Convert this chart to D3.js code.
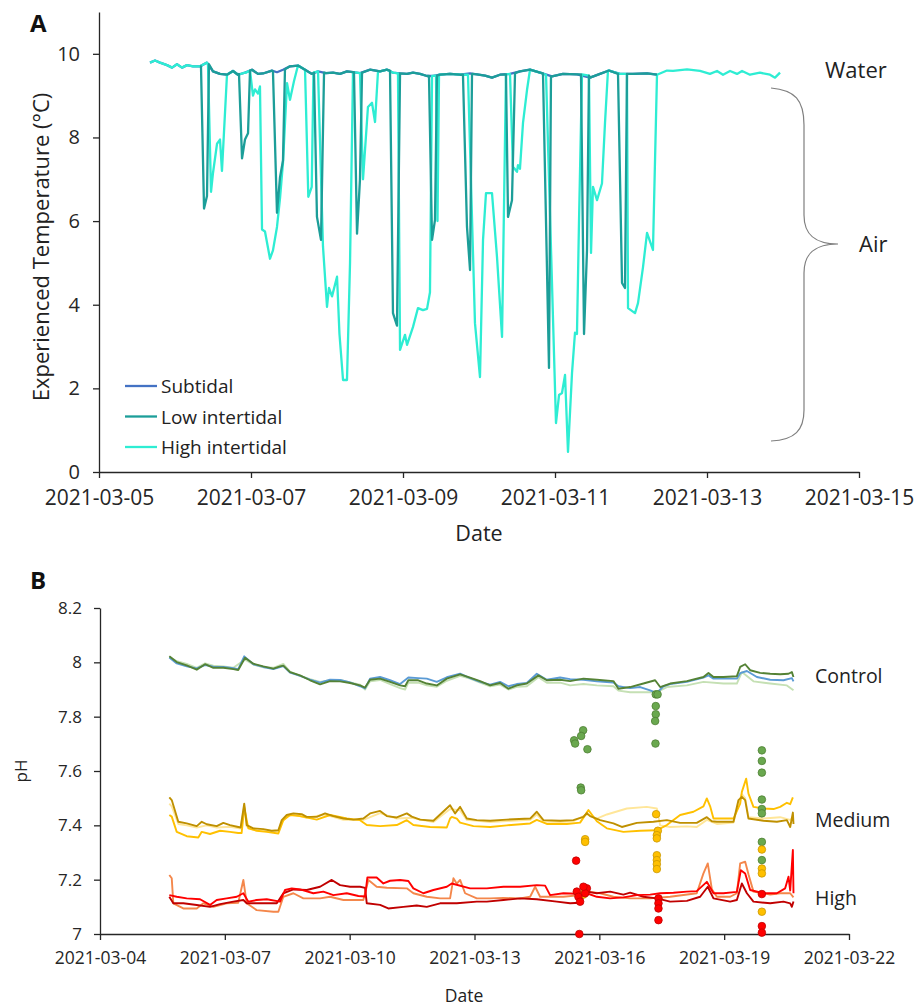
<!DOCTYPE html>
<html>
<head>
<meta charset="utf-8">
<script src="https://cdn.jsdelivr.net/npm/d3@7"></script>
<style>
body { margin: 0; background: #fff; }
svg { font-family: "Open Sans", sans-serif; }
.axis path, .axis line { stroke: #262626; stroke-width: 1.3; }
.axis text { fill: #262626; }
</style>
</head>
<body>
<div id="chart"></div>
<script>
// ---------- Panel A data: time = day of March 2021 (decimal), value = °C ----------
const waterTemp = [
  [5.671,9.79],[5.737,9.84],[5.803,9.79],[5.895,9.73],[5.961,9.67],[6.026,9.75],[6.092,9.67],[6.158,9.73],
  [6.237,9.70],[6.329,9.70],[6.421,9.79],[6.500,9.58],[6.592,9.52],[6.684,9.50],[6.763,9.59],[6.829,9.50],
  [6.921,9.55],[7.013,9.62],[7.092,9.52],[7.158,9.53],[7.276,9.60],[7.342,9.56],[7.421,9.62],[7.513,9.70],
  [7.618,9.72],[7.711,9.62],[7.803,9.52],[7.882,9.58],[7.987,9.54],[8.079,9.55],[8.171,9.52],[8.263,9.58],
  [8.342,9.56],[8.434,9.54],[8.566,9.62],[8.697,9.58],[8.789,9.62],[8.868,9.55],[8.961,9.53],[9.053,9.52],
  [9.132,9.55],[9.224,9.52],[9.316,9.47],[9.395,9.47],[9.487,9.50],[9.618,9.52],[9.750,9.50],[9.882,9.53],
  [9.974,9.51],[10.079,9.48],[10.171,9.43],[10.276,9.50],[10.408,9.52],[10.539,9.58],[10.671,9.62],[10.803,9.55],
  [10.961,9.46],[11.105,9.52],[11.289,9.51],[11.461,9.43],[11.592,9.52],[11.711,9.60],[11.855,9.52],[12.026,9.52],
  [12.211,9.53],[12.342,9.50],[12.474,9.60],[12.553,9.59],[12.737,9.63],[12.908,9.59],[13.039,9.52],[13.132,9.59],
  [13.211,9.50],[13.303,9.59],[13.395,9.52],[13.461,9.59],[13.566,9.50],[13.697,9.55],[13.829,9.50],[13.895,9.43],
  [13.961,9.55]
];

// air exposure episodes, low intertidal
const lowDips = [
  [[6.342,9.70],[6.382,6.30],[6.421,6.60],[6.447,9.75]],
  [[6.842,9.52],[6.882,7.50],[6.921,7.95],[6.961,8.10],[6.987,9.60]],
  [[7.289,9.58],[7.342,6.20],[7.382,7.05],[7.421,7.45],[7.447,9.63]],
  [[7.829,9.55],[7.868,6.10],[7.921,5.55],[7.961,9.55]],
  [[8.355,9.56],[8.395,5.70],[8.434,7.00],[8.461,9.55]],
  [[8.829,9.60],[8.868,3.80],[8.921,3.50],[8.961,9.53]],
  [[9.342,9.47],[9.382,5.55],[9.421,6.03],[9.447,9.48]],
  [[9.789,9.50],[9.842,5.86],[9.882,4.83],[9.908,9.52]],
  [[10.355,9.51],[10.382,6.10],[10.434,6.50],[10.474,9.54]],
  [[10.842,9.53],[10.921,2.49],[10.947,9.46]],
  [[11.342,9.51],[11.382,3.30],[11.421,5.30],[11.447,9.48]],
  [[11.829,9.52],[11.882,4.52],[11.921,4.40],[11.947,9.52]]
];

// air exposure episodes, high intertidal
const highDips = [
  [[6.434,9.75],[6.474,6.70],[6.500,7.15],[6.553,7.85],[6.592,7.95],[6.618,7.20],[6.684,9.50]],
  [[6.934,9.55],[6.987,9.60],[7.026,9.00],[7.053,9.15],[7.092,9.05],[7.118,9.22],[7.145,5.80],[7.184,5.75],
   [7.250,5.10],[7.289,5.30],[7.342,5.86],[7.382,6.55],[7.421,7.40],[7.474,9.30],[7.513,8.90],[7.566,9.35],[7.618,9.72]],
  [[7.711,9.62],[7.754,6.58],[7.799,6.82],[7.822,9.55]],
  [[7.882,9.58],[7.947,5.40],[8.000,3.95],[8.026,4.40],[8.066,4.20],[8.132,4.67],[8.164,3.30],[8.211,2.20],
   [8.263,2.20],[8.303,5.00],[8.342,9.56]],
  [[8.434,9.54],[8.474,7.00],[8.539,8.73],[8.592,8.83],[8.632,8.37],[8.671,9.58]],
  [[8.934,9.53],[8.961,2.92],[9.026,3.28],[9.053,3.04],[9.132,3.47],[9.197,3.92],[9.263,3.87],[9.316,3.90],
   [9.355,4.30],[9.382,9.47]],
  [[9.434,9.48],[9.454,6.00],[9.474,9.50]],
  [[9.855,9.50],[9.947,3.56],[10.013,2.27],[10.053,5.55],[10.092,6.67],[10.171,6.67],[10.237,5.14],[10.303,3.23],[10.355,9.51]],
  [[10.408,9.52],[10.447,7.30],[10.500,7.18],[10.513,7.34],[10.539,7.25],[10.579,8.35],[10.632,9.14],[10.671,9.62]],
  [[10.882,9.50],[11.013,1.17],[11.053,1.84],[11.092,1.89],[11.132,2.32],[11.171,0.48],[11.224,2.37],[11.263,3.33],
   [11.289,3.30],[11.316,6.00],[11.355,9.51]],
  [[11.447,9.48],[11.474,5.24],[11.500,6.82],[11.553,6.50],[11.618,6.90],[11.658,8.35],[11.697,9.60]],
  [[11.947,9.52],[11.961,3.92],[12.053,3.80],[12.092,4.04],[12.158,4.90],[12.211,5.72],[12.289,5.31],[12.342,9.50]]
];

const lowStart = 6.329;
const lowEnd = 12.342;
const seriesA = ["Subtidal", "Low intertidal", "High intertidal"];
const ticksA = ["2021-03-05", "2021-03-07", "2021-03-09", "2021-03-11", "2021-03-13", "2021-03-15"];
const yTicksA = [0, 2, 4, 6, 8, 10];

// ---------- Panel B data: time = day of March 2021 (decimal), value = pH ----------
const ctrlBlue = [
  [5.666,8.018],[5.844,7.996],[6.084,7.985],[6.325,7.978],[6.524,7.990],[6.724,7.984],[6.964,7.983],[7.204,7.978],
  [7.322,7.975],[7.466,8.022],[7.685,7.993],[7.925,7.983],[8.166,7.975],[8.406,7.986],[8.567,7.962],[8.808,7.950],
  [9.048,7.936],[9.288,7.925],[9.529,7.936],[9.769,7.935],[10.010,7.926],[10.25,7.912],[10.370,7.904],[10.490,7.940],
  [10.731,7.946],[10.971,7.934],[11.212,7.920],[11.411,7.944],[11.649,7.942],[11.853,7.940],[12.094,7.928],[12.334,7.945],
  [12.654,7.958],[12.894,7.942],[13.135,7.928],[13.375,7.918],[13.615,7.928],[13.815,7.912],[14.016,7.920],[14.257,7.924],
  [14.497,7.958],[14.738,7.936],[15.058,7.944],[15.298,7.938],[15.618,7.936],[15.940,7.930],[16.339,7.926],[16.459,7.912],
  [16.740,7.905],[16.981,7.909],[17.221,7.897],[17.382,7.887],[17.541,7.912],[17.702,7.920],[18.103,7.928],[18.502,7.944],
  [18.623,7.952],[18.743,7.940],[19.305,7.940],[19.385,7.960],[19.546,7.968],[19.786,7.946],[20.106,7.936],[20.425,7.934],
  [20.627,7.942],[20.666,7.930]
];
const ctrlDark = [
  [5.666,8.022],[5.844,8.001],[6.084,7.989],[6.325,7.973],[6.524,7.993],[6.724,7.980],[6.964,7.980],[7.204,7.975],
  [7.322,7.972],[7.486,8.017],[7.685,7.995],[7.925,7.985],[8.166,7.977],[8.327,7.985],[8.406,7.988],[8.567,7.964],
  [8.808,7.952],[9.048,7.934],[9.288,7.919],[9.529,7.931],[9.769,7.930],[10.010,7.924],[10.25,7.915],[10.370,7.907],
  [10.490,7.936],[10.731,7.940],[10.971,7.928],[11.212,7.915],[11.332,7.912],[11.411,7.934],[11.649,7.934],[11.853,7.922],
  [12.094,7.915],[12.334,7.940],[12.654,7.956],[12.894,7.944],[13.135,7.931],[13.375,7.915],[13.615,7.924],[13.815,7.903],
  [14.016,7.915],[14.257,7.922],[14.536,7.952],[14.738,7.934],[15.058,7.936],[15.298,7.931],[15.618,7.940],[15.940,7.936],
  [16.339,7.931],[16.459,7.903],[16.740,7.909],[17.060,7.922],[17.341,7.934],[17.462,7.909],[17.702,7.922],[18.103,7.931],
  [18.502,7.946],[18.623,7.961],[18.743,7.946],[18.983,7.946],[19.305,7.949],[19.385,7.983],[19.505,7.993],[19.625,7.971],
  [19.865,7.961],[20.106,7.958],[20.346,7.956],[20.546,7.958],[20.627,7.964],[20.666,7.946]
];
const ctrlLight = [
  [5.666,8.020],[5.844,8.004],[6.084,7.994],[6.325,7.980],[6.524,7.996],[6.724,7.988],[6.964,7.985],[7.204,7.980],
  [7.486,8.010],[7.685,7.992],[7.925,7.982],[8.166,7.980],[8.406,7.994],[8.567,7.966],[8.808,7.950],[9.048,7.938],
  [9.288,7.928],[9.529,7.934],[9.769,7.935],[10.010,7.926],[10.25,7.918],[10.370,7.900],[10.490,7.930],[10.731,7.935],
  [10.971,7.920],[11.212,7.905],[11.332,7.900],[11.411,7.925],[11.649,7.925],[11.853,7.915],[12.094,7.910],[12.334,7.932],
  [12.654,7.950],[12.894,7.940],[13.135,7.925],[13.375,7.912],[13.615,7.918],[13.815,7.900],[14.016,7.910],[14.257,7.912],
  [14.536,7.945],[14.738,7.925],[15.058,7.925],[15.298,7.915],[15.618,7.920],[15.940,7.915],[16.339,7.912],[16.459,7.896],
  [16.740,7.890],[17.060,7.890],[17.382,7.890],[17.623,7.909],[18.103,7.915],[18.502,7.928],[18.983,7.922],[19.305,7.922],
  [19.425,7.964],[19.704,7.930],[20.106,7.922],[20.507,7.915],[20.666,7.897]
];

const medDark = [
  [5.666,7.503],[5.724,7.493],[5.882,7.413],[6.084,7.407],[6.325,7.397],[6.445,7.413],[6.565,7.404],[6.805,7.397],
  [6.964,7.409],[7.125,7.401],[7.322,7.394],[7.380,7.392],[7.466,7.480],[7.526,7.401],[7.685,7.389],[7.925,7.386],
  [8.127,7.380],[8.286,7.382],[8.368,7.419],[8.488,7.438],[8.647,7.444],[8.846,7.441],[8.968,7.431],[9.209,7.431],
  [9.409,7.444],[9.608,7.434],[9.849,7.425],[10.089,7.421],[10.329,7.425],[10.490,7.444],[10.731,7.453],[10.892,7.434],
  [11.132,7.429],[11.373,7.444],[11.493,7.432],[11.692,7.421],[12.012,7.417],[12.413,7.474],[12.534,7.444],[12.654,7.468],
  [12.815,7.425],[13.055,7.419],[13.375,7.417],[13.776,7.421],[14.337,7.425],[14.497,7.450],[14.656,7.419],[15.058,7.417],
  [15.377,7.419],[15.618,7.431],[15.700,7.445],[15.779,7.434],[16.019,7.419],[16.339,7.407],[16.541,7.394],[16.901,7.409],
  [17.300,7.413],[17.623,7.419],[17.942,7.409],[18.341,7.409],[18.583,7.430],[18.704,7.415],[18.825,7.413],[19.224,7.413],
  [19.344,7.493],[19.425,7.505],[19.505,7.493],[19.584,7.425],[19.945,7.417],[20.267,7.413],[20.507,7.419],[20.587,7.394],
  [20.651,7.447],[20.666,7.405]
];
const medGold = [
  [5.666,7.438],[5.724,7.432],[5.844,7.376],[6.084,7.360],[6.363,7.355],[6.445,7.376],[6.644,7.368],[6.885,7.380],
  [7.125,7.376],[7.322,7.372],[7.404,7.372],[7.466,7.465],[7.565,7.389],[7.764,7.380],[8.007,7.376],[8.286,7.370],
  [8.406,7.419],[8.567,7.438],[8.808,7.434],[9.209,7.421],[9.529,7.438],[9.930,7.425],[10.25,7.419],[10.411,7.401],
  [10.731,7.397],[11.132,7.401],[11.373,7.419],[11.531,7.401],[11.933,7.394],[12.334,7.392],[12.413,7.425],[12.454,7.431],
  [12.575,7.425],[12.654,7.410],[12.974,7.397],[13.375,7.394],[13.776,7.400],[14.337,7.407],[14.497,7.420],[14.738,7.405],
  [15.219,7.405],[15.538,7.410],[15.738,7.456],[15.940,7.415],[16.180,7.389],[16.579,7.376],[16.981,7.380],[17.382,7.382],
  [17.623,7.401],[17.942,7.438],[18.262,7.450],[18.502,7.470],[18.583,7.499],[18.663,7.470],[18.743,7.425],[19.224,7.425],
  [19.385,7.480],[19.425,7.523],[19.529,7.572],[19.584,7.517],[19.704,7.468],[19.945,7.462],[20.185,7.460],[20.346,7.468],
  [20.507,7.483],[20.587,7.478],[20.651,7.503]
];
const medLight = [
  [5.666,7.480],[5.724,7.470],[5.882,7.405],[6.084,7.400],[6.325,7.392],[6.565,7.400],[6.805,7.392],[7.125,7.395],
  [7.380,7.388],[7.466,7.470],[7.526,7.396],[7.685,7.384],[8.127,7.376],[8.286,7.378],[8.368,7.412],[8.488,7.432],
  [8.647,7.440],[8.968,7.428],[9.409,7.440],[9.849,7.420],[10.329,7.420],[10.731,7.445],[11.132,7.425],[11.493,7.428],
  [12.012,7.412],[12.413,7.460],[12.654,7.455],[12.815,7.420],[13.375,7.412],[13.776,7.416],[14.337,7.420],[14.497,7.440],
  [14.656,7.414],[15.058,7.412],[15.377,7.415],[15.700,7.440],[15.940,7.425],[16.180,7.440],[16.661,7.462],[17.139,7.468],
  [17.382,7.462],[17.462,7.400],[17.702,7.394],[18.103,7.396],[18.341,7.394],[18.583,7.420],[18.825,7.405],[19.224,7.410],
  [19.344,7.480],[19.425,7.515],[19.505,7.500],[19.584,7.430],[19.945,7.425],[20.346,7.430],[20.587,7.420],[20.666,7.430]
];

const highDark = [
  [5.666,7.137],[5.762,7.113],[6.002,7.113],[6.325,7.107],[6.644,7.100],[6.885,7.110],[7.204,7.119],[7.445,7.125],
  [7.526,7.113],[7.846,7.113],[8.248,7.113],[8.406,7.150],[8.647,7.164],[8.968,7.162],[9.288,7.174],[9.570,7.199],
  [9.769,7.180],[10.010,7.174],[10.25,7.174],[10.370,7.170],[10.411,7.113],[10.731,7.107],[10.928,7.094],[11.291,7.100],
  [11.611,7.105],[11.853,7.100],[12.173,7.113],[12.575,7.113],[13.055,7.119],[13.296,7.119],[13.695,7.125],[14.096,7.131],
  [14.497,7.128],[14.978,7.119],[15.298,7.113],[15.538,7.115],[15.700,7.156],[15.940,7.150],[16.260,7.156],[16.579,7.145],
  [16.740,7.152],[17.060,7.137],[17.382,7.131],[17.702,7.119],[18.103,7.122],[18.423,7.137],[18.606,7.174],[18.743,7.131],
  [19.144,7.119],[19.305,7.125],[19.425,7.186],[19.546,7.150],[19.704,7.119],[20.106,7.113],[20.425,7.119],[20.587,7.113],
  [20.627,7.100],[20.666,7.120]
];
const highRed = [
  [5.666,7.143],[5.844,7.137],[6.084,7.131],[6.404,7.128],[6.644,7.107],[6.805,7.125],[7.046,7.131],[7.286,7.137],
  [7.445,7.150],[7.565,7.119],[7.764,7.125],[8.007,7.128],[8.327,7.119],[8.447,7.162],[8.608,7.168],[8.808,7.164],
  [9.127,7.150],[9.368,7.156],[9.608,7.143],[9.930,7.150],[10.209,7.140],[10.370,7.138],[10.425,7.208],[10.649,7.208],
  [10.810,7.186],[10.971,7.196],[11.212,7.199],[11.411,7.195],[11.531,7.168],[11.772,7.150],[12.012,7.162],[12.334,7.174],
  [12.454,7.186],[12.894,7.168],[13.296,7.168],[13.695,7.174],[14.096,7.174],[14.497,7.180],[14.697,7.178],[14.817,7.143],
  [15.137,7.150],[15.459,7.148],[15.700,7.150],[15.940,7.137],[16.260,7.131],[16.579,7.135],[16.901,7.143],[17.221,7.145],
  [17.462,7.150],[17.781,7.152],[18.103,7.156],[18.341,7.158],[18.583,7.192],[18.743,7.150],[18.983,7.150],[19.305,7.155],
  [19.401,7.235],[19.505,7.223],[19.625,7.162],[19.945,7.150],[20.267,7.150],[20.466,7.168],[20.546,7.211],[20.587,7.160],
  [20.651,7.309],[20.666,7.150]
];
const highOrange = [
  [5.666,7.217],[5.724,7.205],[5.762,7.113],[6.002,7.094],[6.325,7.094],[6.483,7.113],[6.724,7.100],[7.046,7.113],
  [7.322,7.115],[7.445,7.199],[7.526,7.113],[7.764,7.088],[8.166,7.082],[8.286,7.082],[8.406,7.137],[8.647,7.150],
  [8.887,7.131],[9.288,7.131],[9.529,7.137],[9.849,7.125],[10.329,7.125],[10.450,7.199],[10.649,7.174],[10.892,7.170],
  [11.373,7.168],[11.531,7.150],[11.853,7.137],[12.173,7.131],[12.413,7.131],[12.493,7.205],[12.575,7.185],[12.654,7.199],
  [12.774,7.150],[13.055,7.131],[13.375,7.131],[13.695,7.133],[14.096,7.131],[14.337,7.137],[14.457,7.174],[14.577,7.137],
  [15.137,7.137],[15.538,7.143],[15.700,7.156],[16.019,7.150],[16.339,7.137],[16.740,7.131],[17.221,7.131],[17.702,7.137],
  [18.341,7.150],[18.502,7.223],[18.606,7.260],[18.704,7.165],[18.825,7.137],[19.144,7.137],[19.305,7.150],[19.385,7.260],
  [19.505,7.266],[19.584,7.220],[19.704,7.156],[20.106,7.145],[20.346,7.150],[20.587,7.150],[20.666,7.135]
];

// discrete measurements
const dotsGreen = [
  [15.611,7.750],[15.563,7.729],[15.394,7.713],[15.418,7.701],[15.714,7.680],[15.553,7.539],[15.563,7.529],
  [17.356,7.882],[17.400,7.882],[17.356,7.839],[17.356,7.809],[17.341,7.784],[17.349,7.701],
  [19.906,7.676],[19.906,7.637],[19.906,7.594],[19.906,7.495],[19.906,7.460],[19.906,7.444],[19.906,7.339],[19.906,7.272]
];
const dotsGold = [
  [15.659,7.349],[15.659,7.339],[15.618,7.145],[15.659,7.160],
  [17.365,7.441],[17.406,7.380],[17.382,7.364],[17.382,7.352],[17.382,7.290],[17.382,7.272],[17.382,7.257],[17.382,7.239],
  [19.906,7.311],[19.906,7.241],[19.906,7.223],[19.906,7.082]
];
const dotsRed = [
  [15.442,7.270],[15.459,7.156],[15.498,7.137],[15.538,7.119],[15.700,7.168],[15.659,7.150],[15.618,7.174],[15.519,7.000],
  [17.421,7.131],[17.421,7.113],[17.421,7.094],[17.421,7.051],
  [19.906,7.147],[19.906,7.029],[19.906,7.005]
];

const groupsB = ["Control", "Medium", "High"];
const ticksB = ["2021-03-04", "2021-03-07", "2021-03-10", "2021-03-13", "2021-03-16", "2021-03-19", "2021-03-22"];
const yTicksB = [7, 7.2, 7.4, 7.6, 7.8, 8, 8.2];

// ---------- helpers ----------
const parseDay = d3.utcParse("%Y-%m-%d");
const fmtDay = d3.utcFormat("%Y-%m-%d");
const toDate = t => new Date(Date.UTC(2021, 2, 1) + (t - 1) * 864e5);

// water record with the air exposure episodes put in place
function withDips(base, dips, tStart, tEnd) {
  const kept = base.filter(p => p[0] >= tStart && p[0] <= tEnd &&
    !dips.some(d => p[0] >= d[0][0] && p[0] <= d[d.length - 1][0]));
  return kept.concat(...dips).sort((a, b) => a[0] - b[0]);
}

const svg = d3.select("#chart").append("svg")
  .attr("width", 915)
  .attr("height", 1008);

function styleAxis(g, size) {
  g.attr("class", "axis").attr("font-family", null).attr("font-size", size);
}

// ================= Panel A =================
const xA = d3.scaleUtc()
  .domain([parseDay(ticksA[0]), parseDay(ticksA[ticksA.length - 1])])
  .range([99, 859]);
const yA = d3.scaleLinear().domain([0, 11]).range([472, 12]);

svg.append("g")
  .attr("transform", "translate(0,472)")
  .call(d3.axisBottom(xA).tickValues(ticksA.map(parseDay)).tickFormat(fmtDay)
    .tickSize(6).tickSizeOuter(0).tickPadding(12))
  .call(g => styleAxis(g, 21));

svg.append("g")
  .attr("transform", "translate(99,0)")
  .call(d3.axisLeft(yA).tickValues(yTicksA).tickSize(6).tickSizeOuter(0).tickPadding(13))
  .call(g => styleAxis(g, 20));

const lineA = d3.line()
  .x(d => xA(toDate(d[0])))
  .y(d => yA(d[1]));

const colorA = d3.scaleOrdinal().domain(seriesA).range(["#4472C4", "#1C9E99", "#2EEDD3"]);

// subtidal underneath, low intertidal drawn last
const drawA = [
  { name: "Subtidal", data: waterTemp.filter(p => p[0] <= lowEnd) },
  { name: "High intertidal", data: withDips(waterTemp, highDips, -Infinity, Infinity) },
  { name: "Low intertidal", data: withDips(waterTemp, lowDips, lowStart, lowEnd) }
];

svg.append("g").selectAll("path")
  .data(drawA)
  .join("path")
  .attr("fill", "none")
  .attr("stroke", d => colorA(d.name))
  .attr("stroke-width", 2.3)
  .attr("stroke-linejoin", "round")
  .attr("d", d => lineA(d.data));

// legend
const legA = svg.append("g").selectAll("g")
  .data(seriesA)
  .join("g")
  .attr("transform", (d, i) => `translate(125,${386 + i * 30.5})`);
legA.append("line").attr("x2", 32).attr("stroke", d => colorA(d)).attr("stroke-width", 2.3);
legA.append("text").attr("x", 36).attr("y", 7).attr("font-size", 19).attr("fill", "#222").text(d => d);

svg.append("text")
  .attr("transform", "translate(49,247) rotate(-90)")
  .attr("text-anchor", "middle")
  .attr("font-size", 22)
  .attr("fill", "#222")
  .text("Experienced Temperature (°C)");

svg.append("text")
  .attr("x", 479).attr("y", 541)
  .attr("text-anchor", "middle")
  .attr("font-size", 21.5)
  .attr("fill", "#222")
  .text("Date");

svg.append("text").attr("x", 30).attr("y", 32)
  .attr("font-size", 24).attr("font-weight", "bold").attr("fill", "#111").text("A");

svg.append("text").attr("x", 825).attr("y", 78).attr("font-size", 22).attr("fill", "#222").text("Water");
svg.append("text").attr("x", 859).attr("y", 252).attr("font-size", 22).attr("fill", "#222").text("Air");

// curly brace for the air periods
svg.append("path")
  .attr("d", "M771,88 C795,90 804,100 804,125 L804,215 C804,235 815,244 838,244 " +
             "C815,244 804,253 804,273 L804,410 C804,430 795,440 771,441")
  .attr("fill", "none")
  .attr("stroke", "#7f7f7f")
  .attr("stroke-width", 1.2);

// ================= Panel B =================
const xB = d3.scaleUtc()
  .domain([parseDay(ticksB[0]), parseDay(ticksB[ticksB.length - 1])])
  .range([100, 849]);
const yB = d3.scaleLinear().domain([7, 8.2]).range([934, 608]);

svg.append("g")
  .attr("transform", "translate(0,934)")
  .call(d3.axisBottom(xB).tickValues(ticksB.map(parseDay)).tickFormat(fmtDay)
    .tickSize(6).tickSizeOuter(0).tickPadding(12))
  .call(g => styleAxis(g, 17.5));

svg.append("g")
  .attr("transform", "translate(100,0)")
  .call(d3.axisLeft(yB).tickValues(yTicksB).tickFormat(d3.format("~g"))
    .tickSize(6).tickSizeOuter(0).tickPadding(12))
  .call(g => styleAxis(g, 17));

const lineB = d3.line()
  .x(d => xB(toDate(d[0])))
  .y(d => yB(d[1]));

// drawing order: paler lines underneath
const seriesB = [
  { data: ctrlLight, color: "#C5E0B4" },
  { data: ctrlBlue, color: "#5B9BD5" },
  { data: ctrlDark, color: "#548235" },
  { data: medLight, color: "#FFE699" },
  { data: medGold, color: "#FFC000" },
  { data: medDark, color: "#BF9000" },
  { data: highOrange, color: "#F4874B" },
  { data: highDark, color: "#C00000" },
  { data: highRed, color: "#FF0000" }
];

svg.append("g").selectAll("path")
  .data(seriesB)
  .join("path")
  .attr("fill", "none")
  .attr("stroke", d => d.color)
  .attr("stroke-width", 1.9)
  .attr("stroke-linejoin", "round")
  .attr("d", d => lineB(d.data));

const dotSets = [
  { data: dotsGreen, fill: "#6AA84F", stroke: "#4E7F33" },
  { data: dotsGold, fill: "#FFC000", stroke: "#C99700" },
  { data: dotsRed, fill: "#FF0000", stroke: "#C00000" }
];
dotSets.forEach(s => {
  svg.append("g").selectAll("circle")
    .data(s.data)
    .join("circle")
    .attr("cx", d => xB(toDate(d[0])))
    .attr("cy", d => yB(d[1]))
    .attr("r", 3.8)
    .attr("fill", s.fill)
    .attr("stroke", s.stroke)
    .attr("stroke-width", 0.8);
});

svg.append("text")
  .attr("transform", "translate(27,771) rotate(-90)")
  .attr("text-anchor", "middle")
  .attr("font-size", 17)
  .attr("fill", "#222")
  .text("pH");

svg.append("text")
  .attr("x", 464).attr("y", 1002)
  .attr("text-anchor", "middle")
  .attr("font-size", 17.5)
  .attr("fill", "#222")
  .text("Date");

svg.append("text").attr("x", 30).attr("y", 589)
  .attr("font-size", 24).attr("font-weight", "bold").attr("fill", "#111").text("B");

const groupLabelY = [683, 827, 905];
svg.append("g").selectAll("text")
  .data(groupsB)
  .join("text")
  .attr("x", 815)
  .attr("y", (d, i) => groupLabelY[i])
  .attr("font-size", 19.5)
  .attr("fill", "#222")
  .text(d => d);
</script>
</body>
</html>
